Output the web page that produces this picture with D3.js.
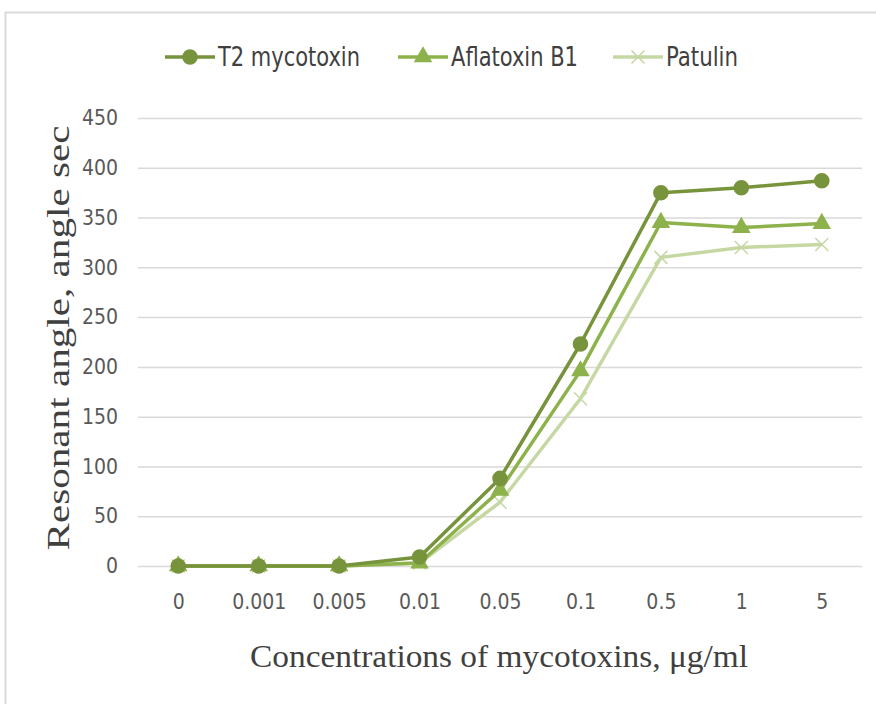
<!DOCTYPE html>
<html>
<head>
<meta charset="utf-8">
<script src="https://cdn.jsdelivr.net/npm/d3@7"></script>
<style>
  body { margin: 0; background: #fff; }
  svg { display: block; }
</style>
</head>
<body>
<script>
// data
var concentrations = ['0', '0.001', '0.005', '0.01', '0.05', '0.1', '0.5', '1', '5'];
var t2Values = [0, 0, 0, 9, 88, 223, 375, 380, 387];
var aflatoxinValues = [0, 0, 0, 3, 76, 196, 345, 340, 344];
var patulinValues = [0, 0, 0, 3, 64, 168, 310, 320, 323];
var seriesNames = ['T2 mycotoxin', 'Aflatoxin B1', 'Patulin'];
var yTicks = [0, 50, 100, 150, 200, 250, 300, 350, 400, 450];

var svgWidth = 876;
var svgHeight = 704;

var margin = { top: 118, bottom: 138, left: 138, right: 14 };
var chartWidth = svgWidth - margin.left - margin.right;
var chartHeight = svgHeight - margin.top - margin.bottom;

var colors = ['#77933c', '#8db24b', '#c5d8a4'];
var shapes = [d3.symbolCircle, d3.symbolTriangle, 'x'];
var tickFont = "'DejaVu Sans Condensed', 'Liberation Sans Narrow', 'Open Sans', sans-serif";

var svg = d3.select('body')
    .append('svg')
    .attr('width', svgWidth)
    .attr('height', svgHeight);

// outer frame
svg.append('path')
    .attr('d', 'M5.5,704 V12.5 H876')
    .attr('fill', 'none')
    .attr('stroke', '#d9d9d9')
    .attr('stroke-width', 2);

var chartGroup = svg.append('g')
    .attr('transform', `translate(${margin.left},${margin.top})`);

var xScale = d3.scalePoint()
    .domain(concentrations)
    .range([0, chartWidth])
    .padding(0.5);

var yScale = d3.scaleLinear()
    .domain([0, 450])
    .range([chartHeight, 0]);

// gridlines
chartGroup.append('g')
    .selectAll('line')
    .data(yTicks)
    .enter()
    .append('line')
    .attr('x1', 0)
    .attr('x2', chartWidth)
    .attr('y1', d => yScale(d) + 0.5)
    .attr('y2', d => yScale(d) + 0.5)
    .attr('stroke', '#d9d9d9')
    .attr('stroke-width', 1.5);

// axes (tick text only)
var yAxis = d3.axisLeft(yScale).tickValues(yTicks).tickSize(0).tickPadding(20);
var yg = chartGroup.append('g').call(yAxis);
yg.select('.domain').remove();
yg.selectAll('text')
    .attr('font-family', tickFont)
    .attr('font-size', '21px')
    .attr('fill', '#595959');

var xAxis = d3.axisBottom(xScale).tickSize(0).tickPadding(28);
var xg = chartGroup.append('g')
    .attr('transform', `translate(0,${chartHeight})`)
    .call(xAxis);
xg.select('.domain').remove();
xg.selectAll('text')
    .attr('font-family', tickFont)
    .attr('font-size', '21px')
    .attr('fill', '#595959');

var allSeries = [t2Values, aflatoxinValues, patulinValues];

function drawMarker(sel, i) {
    if (shapes[i] === 'x') {
        var s = 6.5;
        sel.append('path')
            .attr('d', `M${-s},${-s}L${s},${s}M${-s},${s}L${s},${-s}`)
            .attr('stroke', colors[i])
            .attr('stroke-width', 1.5)
            .attr('fill', 'none');
    } else {
        sel.append('path')
            .attr('d', d3.symbol().type(shapes[i]).size(i === 0 ? 190 : 150)())
            .attr('fill', colors[i]);
    }
}

var line = d3.line()
    .x((d, j) => xScale(concentrations[j]))
    .y(d => yScale(d));

// draw the lightest first so darker lines sit on top
[2, 1, 0].forEach(function(i) {
    var vals = allSeries[i];
    chartGroup.append('path')
        .datum(vals)
        .attr('d', line)
        .attr('fill', 'none')
        .attr('stroke', colors[i])
        .attr('stroke-width', 3.5)
        .attr('stroke-linejoin', 'round');

    chartGroup.append('g')
        .selectAll('g')
        .data(vals)
        .enter()
        .append('g')
        .attr('transform', (d, j) => `translate(${xScale(concentrations[j])},${yScale(d)})`)
        .each(function() { drawMarker(d3.select(this), i); });
});

// legend
var legendX = [165, 398, 613];
var legendTextLen = [142, 127, 72];
var legend = svg.append('g');
seriesNames.forEach(function(name, i) {
    var g = legend.append('g').attr('transform', `translate(${legendX[i]},57)`);
    g.append('line')
        .attr('x1', 0).attr('x2', 50)
        .attr('stroke', colors[i])
        .attr('stroke-width', 3.5);
    drawMarker(g.append('g').attr('transform', 'translate(25,0)'), i);
    g.append('text')
        .attr('x', 53)
        .attr('y', 9)
        .attr('font-family', tickFont)
        .attr('font-size', '27px')
        .attr('fill', '#404040')
        .attr('textLength', legendTextLen[i])
        .attr('lengthAdjust', 'spacingAndGlyphs')
        .text(name);
});

// axis titles
svg.append('text')
    .attr('x', 499)
    .attr('y', 667)
    .attr('text-anchor', 'middle')
    .attr('font-family', "'Liberation Serif', 'Times New Roman', serif")
    .attr('font-size', '31px')
    .attr('fill', '#404040')
    .attr('textLength', 498)
    .attr('lengthAdjust', 'spacingAndGlyphs')
    .text('Concentrations of mycotoxins, \u03bcg/ml');

svg.append('text')
    .attr('transform', 'translate(69,338) rotate(-90)')
    .attr('text-anchor', 'middle')
    .attr('font-family', "'Liberation Serif', 'Times New Roman', serif")
    .attr('font-size', '31px')
    .attr('fill', '#404040')
    .attr('textLength', 425)
    .attr('lengthAdjust', 'spacingAndGlyphs')
    .text('Resonant angle, angle sec');
</script>
</body>
</html>
